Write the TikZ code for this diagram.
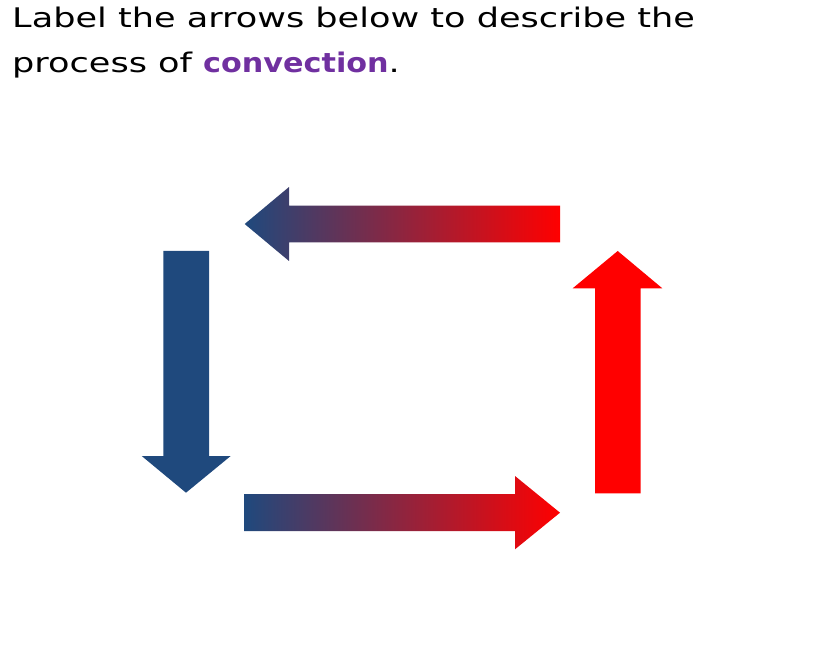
\documentclass[tikz,border=0pt]{standalone}
\usepackage{fontspec}
\setmainfont{DejaVu Sans}[FakeStretch=1.3,BoldFeatures={FakeStretch=1.12}]
\definecolor{arrblue}{RGB}{31,73,125}
\definecolor{arrred}{RGB}{255,0,0}
\definecolor{convpurple}{RGB}{112,48,160}
\tikzset{
  titletext/.style={anchor=base west, inner sep=0pt, font=\fontsize{27}{34}\selectfont},
  gradarrow/.style={left color=arrblue, right color=arrred, draw=none},
}
\begin{document}
\begin{tikzpicture}[x=1pt,y=-1pt]
\useasboundingbox (0,0) rectangle (820,655);
\node[titletext] (line1) at (12,28) {Label the arrows below to describe the};
\node[titletext] (line2) at (12,73) {process of \textcolor{convpurple}{\textbf{convection}}.};
% top arrow (leftwards)
\shade[gradarrow] (560,205.7) -- (289,205.7) -- (289,187) -- (244.7,224) -- (289,261) -- (289,242.3) -- (560,242.3) -- cycle;
% left arrow (down)
\fill[arrblue] (163.3,251) -- (209,251) -- (209,456) -- (230.7,456) -- (186,492.7) -- (141.7,456) -- (163.3,456) -- cycle;
% bottom arrow (rightwards)
\shade[gradarrow] (244,494) -- (515,494) -- (515,476) -- (560,512.7) -- (515,549.3) -- (515,531) -- (244,531) -- cycle;
% right arrow (up)
\fill[arrred] (595,493.3) -- (640.7,493.3) -- (640.7,288.3) -- (662.3,288.3) -- (617.7,251) -- (572.7,288.3) -- (595,288.3) -- cycle;
\end{tikzpicture}
\end{document}
